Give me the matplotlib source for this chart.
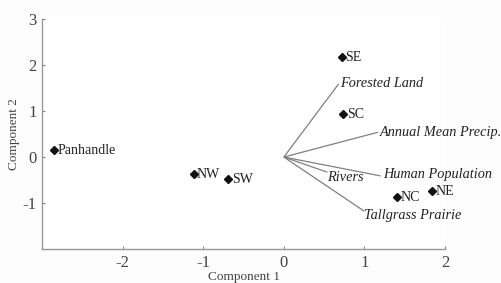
import matplotlib
matplotlib.use("Agg")
import matplotlib.pyplot as plt

plt.rcParams['font.family'] = ['Liberation Serif', 'DejaVu Serif']

regions = ["Panhandle", "NW", "SW", "SE", "SC", "NC", "NE"]
region_x = [-2.85, -1.12, -0.69, 0.72, 0.74, 1.41, 1.84]
region_y = [0.15, -0.37, -0.48, 2.17, 0.93, -0.87, -0.74]

variables = ["Forested Land", "Annual Mean Precip.", "Human Population", "Rivers", "Tallgrass Prairie"]
var_x = [0.68, 1.17, 1.20, 0.54, 1.00]
var_y = [1.59, 0.54, -0.41, -0.33, -1.18]

xticks = [-2, -1, 0, 1, 2]
yticks = [-1, 0, 1, 2, 3]

fig = plt.figure(figsize=(5.02, 2.83), dpi=100)
ax = fig.add_axes([0.0837, 0.12, 0.8028, 0.8127])
ax.set_xlim(-3, 2)
ax.set_ylim(-2, 3)

line_col = "#808080"
text_col = "#222222"

label_offsets = {"Forested Land": (1, 0), "Annual Mean Precip.": (1, -0.5),
                 "Human Population": (2, 1), "Rivers": (0, -3.5),
                 "Tallgrass Prairie": (0, -3)}

for vx, vy, name in zip(var_x, var_y, variables):
    ax.plot([0, vx], [0, vy], color=line_col, lw=0.9, solid_capstyle='butt')
    ax.annotate(name, (vx, vy), xytext=label_offsets[name], textcoords='offset points',
                ha='left', va='center', style='italic', fontsize=10.3, color=text_col)

ax.plot(region_x, region_y, linestyle='none', marker='D', markersize=3.6,
        color='#111111')
for rx, ry, name in zip(region_x, region_y, regions):
    ax.annotate(name, (rx, ry), xytext=(2.5, 0), textcoords='offset points',
                ha='left', va='center', fontsize=10, color=text_col)

ax.set_xticks(xticks)
ax.set_xticklabels([str(t) for t in xticks])
ax.set_yticks(yticks)
ax.set_yticklabels([str(t) for t in yticks])
ax.tick_params(direction='in', length=2, width=0.8, colors=line_col,
               labelcolor='#444444', labelsize=12, pad=4)

for s in ['top', 'right']:
    ax.spines[s].set_visible(False)
for s in ['left', 'bottom']:
    ax.spines[s].set_color('#999999')
    ax.spines[s].set_linewidth(1.0)

ax.set_xlabel("Component 1", fontsize=9.5, color='#444444', labelpad=0)
ax.set_ylabel("Component 2", fontsize=9.5, color='#444444', labelpad=2)

fig.savefig("out.png", dpi=100, facecolor='#fdfdfd')
